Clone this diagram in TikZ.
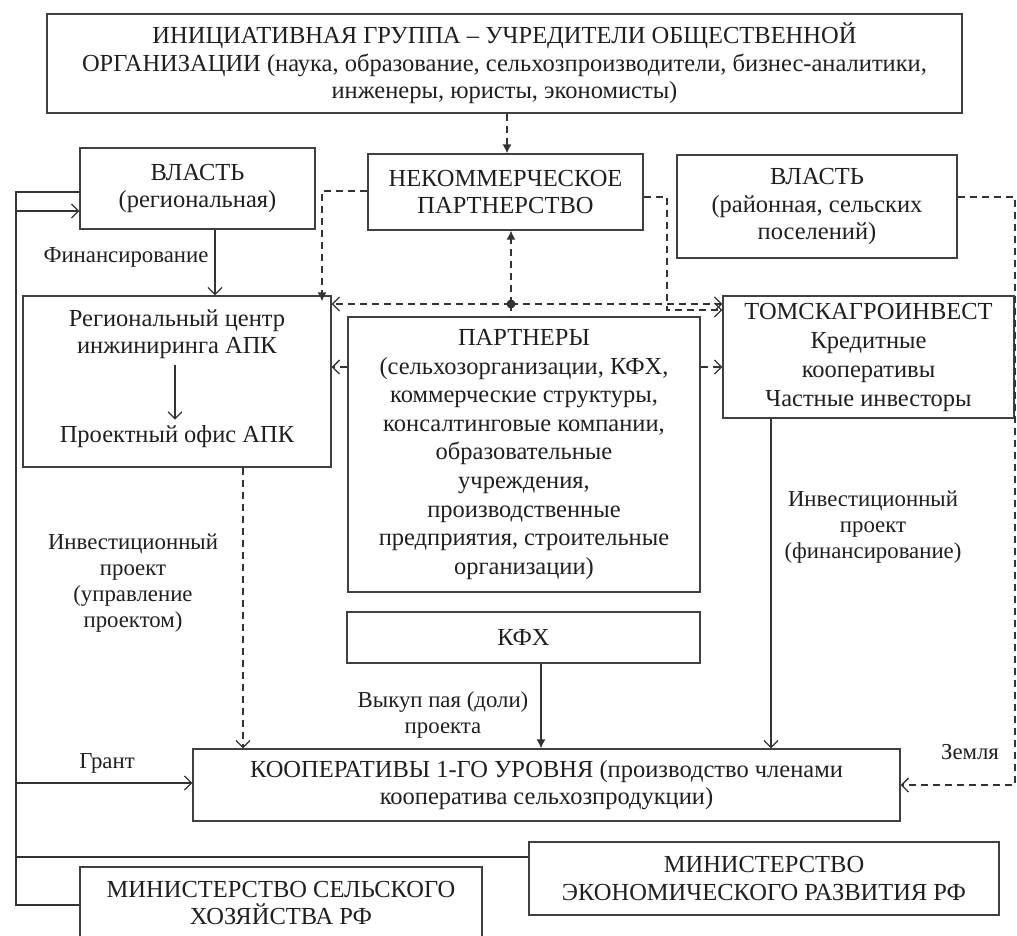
\documentclass[tikz,border=0pt]{standalone}
\usepackage{fontspec}
\setmainfont{Liberation Serif}
\usetikzlibrary{arrows.meta}
\begin{document}
\begin{tikzpicture}[x=1pt,y=-1pt,
  font=\fontsize{24.5}{27.5}\selectfont,
  every node/.style={text=black!88},
  bx/.style={draw=black!75, line width=1.3pt, align=center, inner sep=0pt},
  lbl/.style={align=center, inner sep=0pt, font=\fontsize{22.8}{26}\selectfont},
  ln/.style={draw=black!80, line width=1.3pt},
  dsh/.style={draw=black!80, line width=1.3pt, dash pattern=on 7pt off 5pt},
  oarr/.style={-{Straight Barb[length=7pt,width=14pt]}},
  farr/.style={-{Latex[length=9pt,width=9pt]}},
]
\useasboundingbox (0,0) rectangle (1017,935);

% boxes
\node[bx, minimum width=915pt, minimum height=99pt] (top) at (504.5,63.5)
  {ИНИЦИАТИВНАЯ ГРУППА – УЧРЕДИТЕЛИ ОБЩЕСТВЕННОЙ\\ОРГАНИЗАЦИИ (наука, образование, сельхозпроизводители, бизнес-аналитики,\\инженеры, юристы, экономисты)};
\node[bx, minimum width=235pt, minimum height=81pt] (vr) at (197.5,188.5)
  {ВЛАСТЬ\\(региональная)};
\node[bx, minimum width=275pt, minimum height=76pt] (np) at (505.5,192)
  {НЕКОММЕРЧЕСКОЕ\\ПАРТНЕРСТВО};
\node[bx, minimum width=280pt, minimum height=103pt] (vd) at (817,206.5)
  {ВЛАСТЬ\\(районная, сельских\\поселений)};
\node[bx, minimum width=308pt, minimum height=171pt] (rc) at (177,381.5) {};
\node[align=center, inner sep=0pt] (rc1) at (177,334) {Региональный центр\\инжиниринга АПК};
\node[align=center, inner sep=0pt] (rc2) at (177,437) {Проектный офис АПК};
\node[bx, minimum width=352pt, minimum height=275pt, font=\fontsize{24.5}{28.6}\selectfont] (pt) at (524,454.5)
  {ПАРТНЕРЫ\\(сельхозорганизации, КФХ,\\коммерческие структуры,\\консалтинговые компании,\\образовательные\\учреждения,\\производственные\\предприятия, строительные\\организации)};
\node[bx, minimum width=291pt, minimum height=122pt, font=\fontsize{24.5}{29}\selectfont] (tm) at (868.5,357)
  {ТОМСКАГРОИНВЕСТ\\Кредитные\\кооперативы\\Частные инвесторы};
\node[bx, minimum width=353pt, minimum height=51pt] (kfx) at (523.5,637.5) {КФХ};
\node[bx, minimum width=707pt, minimum height=72pt] (coop) at (546.5,785)
  {КООПЕРАТИВЫ 1-ГО УРОВНЯ (производство членами\\кооператива сельхозпродукции)};
\node[bx, minimum width=402pt, minimum height=72pt] (ma) at (281,903)
  {МИНИСТЕРСТВО СЕЛЬСКОГО\\ХОЗЯЙСТВА РФ};
\node[bx, minimum width=470pt, minimum height=73pt] (me) at (764,878.5)
  {МИНИСТЕРСТВО\\ЭКОНОМИЧЕСКОГО РАЗВИТИЯ РФ};

% helper coordinates
\coordinate (xa) at (507,0);
\coordinate (xf) at (215,0);
\coordinate (xi) at (243,0);
\coordinate (xt) at (771,0);
\coordinate (xk) at (541,0);
\coordinate (xr) at (175,0);
\coordinate (L1) at (16,192);
\coordinate (L2) at (16,905);
\coordinate (g1) at (16,211);
\coordinate (g2) at (16,783);
\coordinate (g3) at (16,857);
\coordinate (c1) at (322,191);
\coordinate (j) at (511,304);
\coordinate (c2) at (667,197);
\coordinate (c3) at (667,310);
\coordinate (c4) at (0,367);
\coordinate (r1) at (1015,197);
\coordinate (r2) at (1015,785);

% connectors
\draw[dsh,farr] (top.south -| xa) -- (np.north -| xa);
\draw[ln] (vr.west |- L1) -- (L1) -- (L2) -- (ma.west |- L2);
\draw[ln,oarr] (g1) -- (g1 -| vr.west);
\draw[ln,oarr] (g2) -- (g2 -| coop.west);
\draw[ln] (g3) -- (g3 -| me.west);
\draw[ln,oarr] (vr.south -| xf) -- (rc.north -| xf);
\draw[dsh,farr] (np.west |- c1) -- (c1) -- ([yshift=-6pt]c1 |- rc.north);
\draw[dsh,farr] (j) -- (np.south -| j);
\draw[dsh] (j) -- (j |- pt.north);
\draw[dsh,oarr] (j) -- (j -| rc.east);
\draw[dsh,oarr] (j) -- (j -| tm.west);
\fill[black!80] (j) circle (4.5pt);
\draw[dsh,oarr] (np.east |- c2) -- (c2) -- (c3) -- (c3 -| tm.west);
\draw[dsh,oarr] (pt.west |- c4) -- (rc.east |- c4);
\draw[dsh,oarr] (pt.east |- c4) -- (tm.west |- c4);
\draw[ln,oarr,shorten <=6pt,shorten >=6pt] (rc1.south -| xr) -- (rc2.north -| xr);
\draw[dsh,oarr] (rc.south -| xi) -- (coop.north -| xi);
\draw[ln,oarr] (tm.south -| xt) -- (coop.north -| xt);
\draw[ln,farr] (kfx.south -| xk) -- (coop.north -| xk);
\draw[dsh,oarr] (vd.east |- r1) -- (r1) -- (r2) -- (r2 -| coop.east);

% labels
\node[lbl] (lf) at (126,257) {Финансирование};
\node[lbl] (li) at (133,583) {Инвестиционный\\проект\\(управление\\проектом)};
\node[lbl] (lt) at (873,527) {Инвестиционный\\проект\\(финансирование)};
\node[lbl] (lk) at (443,715) {Выкуп пая (доли)\\проекта};
\node[lbl] (lg) at (107,763) {Грант};
\node[lbl] (lz) at (970,752) {Земля};
\end{tikzpicture}
\end{document}
